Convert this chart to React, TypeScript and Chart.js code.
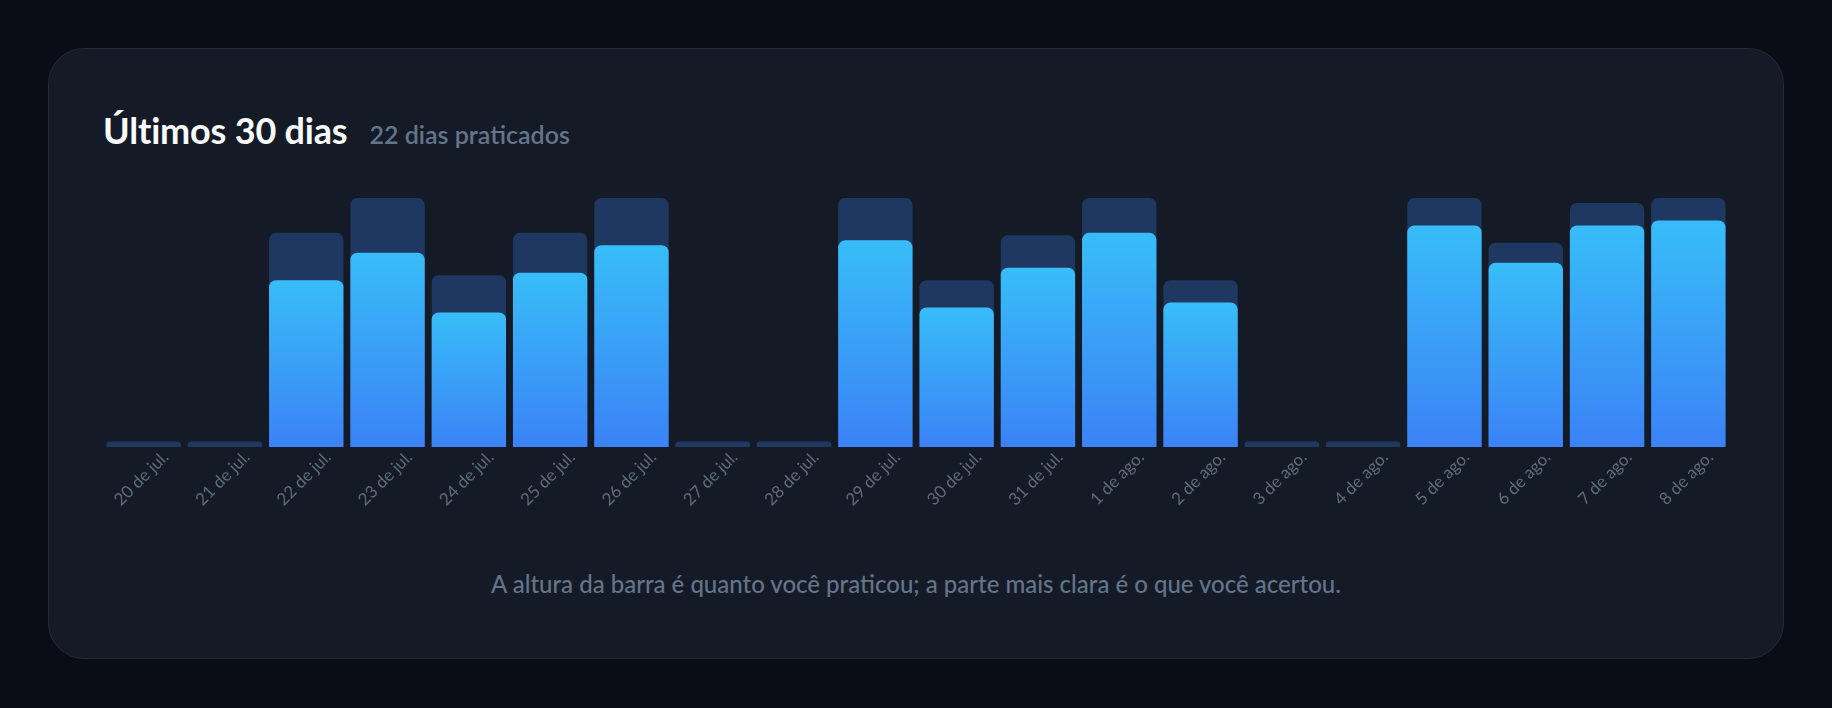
import { useEffect, useRef } from 'react'
import { Chart, registerables } from 'chart.js'

Chart.register(...registerables)

// dias exibidos no gráfico
const days = [
  '20 de jul.', '21 de jul.', '22 de jul.', '23 de jul.', '24 de jul.',
  '25 de jul.', '26 de jul.', '27 de jul.', '28 de jul.', '29 de jul.',
  '30 de jul.', '31 de jul.', '1 de ago.', '2 de ago.', '3 de ago.',
  '4 de ago.', '5 de ago.', '6 de ago.', '7 de ago.', '8 de ago.',
]

// quanto foi praticado (altura total da barra, % do máximo)
const practiced = [2.2, 2.2, 86, 100, 69, 86, 100, 2.2, 2.2, 100, 67, 85, 100, 67, 2.2, 2.2, 100, 82, 98, 100]

// quanto foi acertado (parte clara)
const correct = [0, 0, 67, 78, 54, 70, 81, 0, 0, 83, 56, 72, 86, 58, 0, 0, 89, 74, 89, 91]

const FONT = 'Lato, "Noto Sans", sans-serif'

function PracticeChart() {
  const chartRef = useRef<HTMLCanvasElement>(null)
  const chartInstance = useRef<Chart | null>(null)

  useEffect(() => {
    if (!chartRef.current) return
    if (chartInstance.current) chartInstance.current.destroy()
    const ctx = chartRef.current.getContext('2d')
    if (!ctx) return

    chartInstance.current = new Chart(ctx, {
      type: 'bar',
      data: {
        labels: days,
        datasets: [
          {
            label: 'Acertos',
            data: correct,
            order: 0,
            grouped: false,
            borderRadius: 7,
            borderSkipped: 'bottom',
            barPercentage: 0.915,
            categoryPercentage: 1,
            backgroundColor: (c: any) => {
              const chart = c.chart
              if (!chart.chartArea || c.type !== 'data') return '#38bdf8'
              const y = chart.scales.y
              const top = y.getPixelForValue(c.raw as number)
              const bottom = y.getPixelForValue(0)
              if (!isFinite(top) || bottom - top < 1) return '#38bdf8'
              const g = chart.ctx.createLinearGradient(0, top, 0, bottom)
              g.addColorStop(0, '#38bdf8')
              g.addColorStop(1, '#3b82f6')
              return g
            },
          },
          {
            label: 'Praticado',
            data: practiced,
            order: 1,
            grouped: false,
            borderRadius: 7,
            borderSkipped: 'bottom',
            barPercentage: 0.915,
            categoryPercentage: 1,
            backgroundColor: '#1f3861',
          },
        ],
      },
      options: {
        animation: false,
        responsive: true,
        maintainAspectRatio: false,
        layout: { padding: 0 },
        plugins: {
          legend: { display: false },
          tooltip: { enabled: false },
        },
        scales: {
          x: {
            grid: { display: false, drawTicks: false },
            border: { display: false },
            afterFit: (scale: any) => {
              // eixo com altura fixa e sem recuo lateral para os rótulos
              scale.height = 62
              scale.paddingLeft = 0
              scale.paddingRight = 0
            },
            ticks: {
              autoSkip: false,
              minRotation: 45,
              maxRotation: 45,
              padding: 0,
              labelOffset: 22,
              color: '#5f6a7c',
              font: { family: FONT, size: 17 },
            },
          },
          y: {
            display: false,
            min: 0,
            max: 100,
          },
        },
      },
    })

    return () => {
      if (chartInstance.current) {
        chartInstance.current.destroy()
        chartInstance.current = null
      }
    }
  }, [])

  return (
    <div style={{ position: 'relative', height: 311, marginTop: 48 }}>
      <canvas ref={chartRef} />
    </div>
  )
}

export default function App() {
  useEffect(() => {
    document.body.style.background = '#0a0d16'
  }, [])

  return (
    <div style={{ padding: 40, fontFamily: FONT }}>
      <div
        style={{
          boxSizing: 'border-box',
          height: 611,
          background: '#141b26',
          border: '1px solid #232b39',
          borderRadius: 36,
          padding: '61px 54px 60px',
        }}
      >
        <div style={{ height: 40, lineHeight: '40px', whiteSpace: 'nowrap' }}>
          <span style={{ fontSize: 36, fontWeight: 700, color: '#f8fafc', letterSpacing: -0.2 }}>
            Últimos 30 dias
          </span>
          <span style={{ fontSize: 25, fontWeight: 600, color: '#64748b', marginLeft: 22 }}>
            22 dias praticados
          </span>
        </div>
        <PracticeChart />
        <div
          style={{
            marginTop: 61,
            height: 28,
            lineHeight: '28px',
            textAlign: 'center',
            fontSize: 24,
            fontWeight: 500,
            color: '#64748b',
          }}
        >
          A altura da barra é quanto você praticou; a parte mais clara é o que você acertou.
        </div>
      </div>
    </div>
  )
}
